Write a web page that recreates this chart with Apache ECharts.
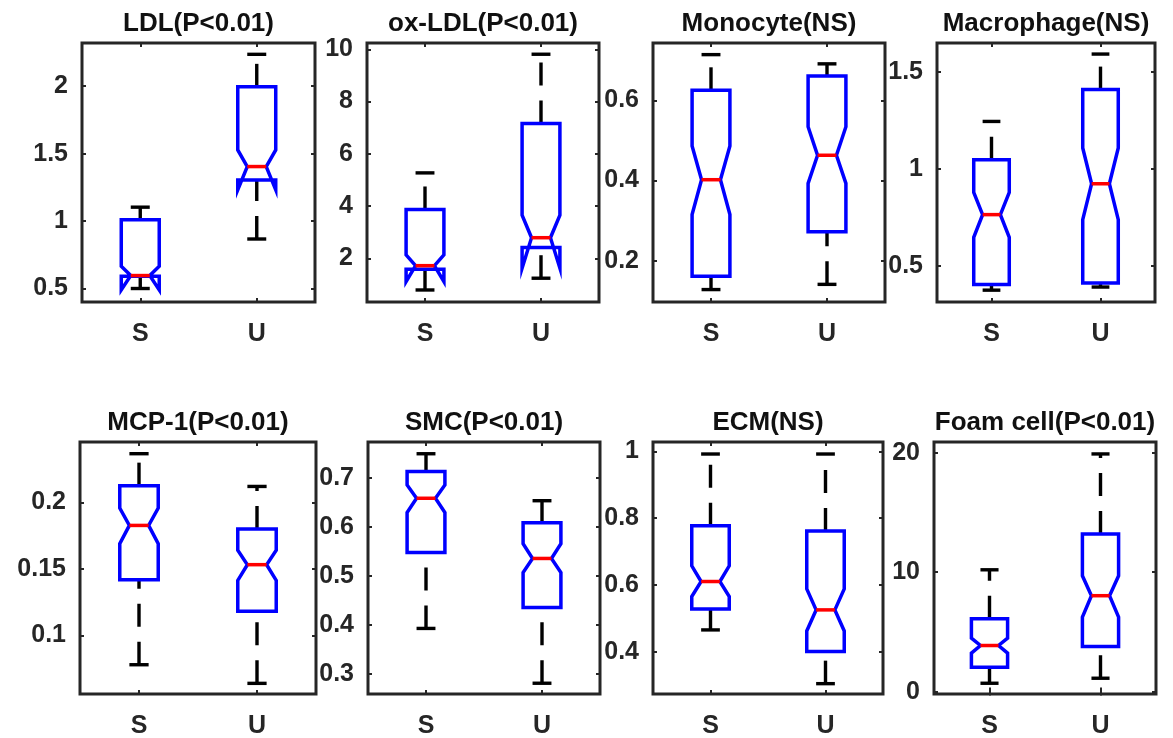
<!DOCTYPE html>
<html>
<head>
<meta charset="utf-8">
<script src="https://cdn.jsdelivr.net/npm/echarts@6/dist/echarts.min.js"></script>
<style>
  html, body { margin: 0; padding: 0; background: #ffffff; }
  #chart { width: 1173px; height: 738px; }
</style>
</head>
<body>
<div id="chart"></div>
<script>
// ---------- data ----------
const categories = ['S', 'U'];
const titles = ['LDL(P<0.01)', 'ox-LDL(P<0.01)', 'Monocyte(NS)', 'Macrophage(NS)',
                'MCP-1(P<0.01)', 'SMC(P<0.01)', 'ECM(NS)', 'Foam cell(P<0.01)'];
// y-axis limits per panel
const yMin = [0.40, 0.33, 0.097, 0.315, 0.056, 0.259, 0.273, -0.2];
const yMax = [2.32, 10.24, 0.743, 1.649, 0.2454, 0.774, 1.028, 20.9];
// tick labels per panel
const tickValues = [
  [0.5, 1, 1.5, 2],
  [2, 4, 6, 8, 10],
  [0.2, 0.4, 0.6],
  [0.5, 1, 1.5],
  [0.1, 0.15, 0.2],
  [0.3, 0.4, 0.5, 0.6, 0.7],
  [0.4, 0.6, 0.8, 1],
  [0, 10, 20]
];
// box statistics per panel, [S, U]
const lowerWhisker = [[0.50, 0.867], [0.79, 1.24], [0.128, 0.141], [0.376, 0.392],
                      [0.078, 0.064], [0.393, 0.281], [0.465, 0.304], [0.70, 1.12]];
const q1 = [[0.59, 1.305], [1.58, 2.42], [0.161, 0.272], [0.405, 0.413],
            [0.1419, 0.1182], [0.548, 0.436], [0.528, 0.400], [2.05, 3.78]];
const notchLow = [[0.49, 1.231], [1.11, 1.62], [0.315, 0.393], [0.648, 0.739],
                  [0.169, 0.1414], [0.630, 0.507], [0.565, 0.462], [3.22, 6.24]];
const median = [[0.596, 1.404], [1.72, 2.79], [0.402, 0.463], [0.765, 0.924],
                [0.1827, 0.1532], [0.659, 0.536], [0.610, 0.525], [3.86, 8.03]];
const notchHigh = [[0.665, 1.527], [2.13, 3.65], [0.486, 0.534], [0.880, 1.108],
                   [0.1958, 0.164], [0.686, 0.566], [0.657, 0.588], [4.48, 9.70]];
const q3 = [[1.010, 1.995], [3.87, 7.16], [0.625, 0.661], [1.048, 1.409],
            [0.2126, 0.180], [0.7135, 0.609], [0.777, 0.761], [6.10, 13.2]];
const upperWhisker = [[1.103, 2.236], [5.27, 9.81], [0.714, 0.691], [1.245, 1.592],
                      [0.2366, 0.212], [0.750, 0.654], [0.992, 0.992], [10.2, 19.9]];

// ---------- layout ----------
const panels = [
  [82, 315, 43, 302], [367, 599, 43, 302], [653, 885, 43, 302], [937, 1155, 43, 302],
  [80, 316, 442, 694], [368, 600, 442, 694], [653, 883, 442, 694], [934, 1156, 442, 694]
];

const AX = '#262626';
const FONT = 'Liberation Sans, Arial, sans-serif';

function renderBox(params, api) {
  const cat = api.value(0);
  const wl = api.value(1), a = api.value(2), nl = api.value(3), md = api.value(4),
        nh = api.value(5), b = api.value(6), wh = api.value(7);
  const band = api.size([1, 0])[0];
  const boxW = band * 0.326, d = boxW / 4, capW = boxW / 2;
  const cx = api.coord([cat, md])[0];
  const Y = v => api.coord([cat, v])[1];
  const L = cx - boxW / 2, R = cx + boxW / 2;
  const whisk = { stroke: '#000000', lineWidth: 3.4, lineDash: [23, 15], fill: null };
  const solid = { stroke: '#000000', lineWidth: 3.4, fill: null };
  return {
    type: 'group',
    children: [
      { type: 'line', shape: { x1: cx, y1: Y(b), x2: cx, y2: Y(wh) }, style: whisk },
      { type: 'line', shape: { x1: cx, y1: Y(wl), x2: cx, y2: Y(a) }, style: whisk },
      { type: 'line', shape: { x1: cx - capW / 2, y1: Y(wh), x2: cx + capW / 2, y2: Y(wh) }, style: solid },
      { type: 'line', shape: { x1: cx - capW / 2, y1: Y(wl), x2: cx + capW / 2, y2: Y(wl) }, style: solid },
      { type: 'polygon', shape: { points: [
          [L, Y(a)], [L, Y(nl)], [L + d, Y(md)], [L, Y(nh)], [L, Y(b)],
          [R, Y(b)], [R, Y(nh)], [R - d, Y(md)], [R, Y(nl)], [R, Y(a)]
        ] }, style: { stroke: '#0000FF', lineWidth: 3.5, fill: null, lineJoin: 'miter' } },
      { type: 'line', shape: { x1: L + d, y1: Y(md), x2: R - d, y2: Y(md) },
        style: { stroke: '#FF0000', lineWidth: 3.5 } }
    ]
  };
}

const grid = [], xAxis = [], yAxis = [], series = [], graphic = [];
panels.forEach((p, i) => {
  const [l, r, t, b] = p;
  grid.push({ left: l, top: t, width: r - l, height: b - t, show: true,
              borderColor: AX, borderWidth: 3, backgroundColor: 'transparent',
              containLabel: false, outerBoundsMode: 'none' });
  const tickStyle = { show: true, inside: true, length: 4, lineStyle: { color: AX, width: 2 } };
  xAxis.push({ type: 'category', gridIndex: i, data: categories, position: 'bottom',
    axisLine: { show: false }, axisTick: Object.assign({ alignWithLabel: true, interval: 0 }, tickStyle),
    axisLabel: { margin: 20, color: AX, fontSize: 25, fontWeight: 'bold', fontFamily: FONT },
    splitLine: { show: false } });
  xAxis.push({ type: 'category', gridIndex: i, data: categories, position: 'top',
    axisLine: { show: false }, axisTick: Object.assign({ alignWithLabel: true, interval: 0 }, tickStyle),
    axisLabel: { show: false }, splitLine: { show: false } });
  yAxis.push({ type: 'value', gridIndex: i, min: yMin[i], max: yMax[i], position: 'left',
    axisLine: { show: false },
    axisTick: Object.assign({ customValues: tickValues[i] }, tickStyle),
    axisLabel: { customValues: tickValues[i], margin: 14, color: AX, fontSize: 25,
                 fontWeight: 'bold', fontFamily: FONT },
    splitLine: { show: false } });
  yAxis.push({ type: 'value', gridIndex: i, min: yMin[i], max: yMax[i], position: 'right',
    axisLine: { show: false },
    axisTick: Object.assign({ customValues: tickValues[i] }, tickStyle),
    axisLabel: { show: false }, splitLine: { show: false } });
  series.push({
    type: 'custom', xAxisIndex: 2 * i, yAxisIndex: 2 * i,
    renderItem: renderBox, silent: true,
    encode: { x: 0, y: [1, 2, 3, 4, 5, 6, 7] },
    data: categories.map((c, k) => [k, lowerWhisker[i][k], q1[i][k], notchLow[i][k],
      median[i][k], notchHigh[i][k], q3[i][k], upperWhisker[i][k]])
  });
  graphic.push({ type: 'text', x: (l + r) / 2, y: t - 19,
    style: { text: titles[i], font: 'bold 26px ' + FONT, fill: '#111111',
             align: 'center', verticalAlign: 'middle' } });
});

const chart = echarts.init(document.getElementById('chart'), null, { renderer: 'canvas' });
chart.setOption({
  animation: false,
  backgroundColor: '#ffffff',
  grid, xAxis, yAxis, series, graphic
});
</script>
</body>
</html>
